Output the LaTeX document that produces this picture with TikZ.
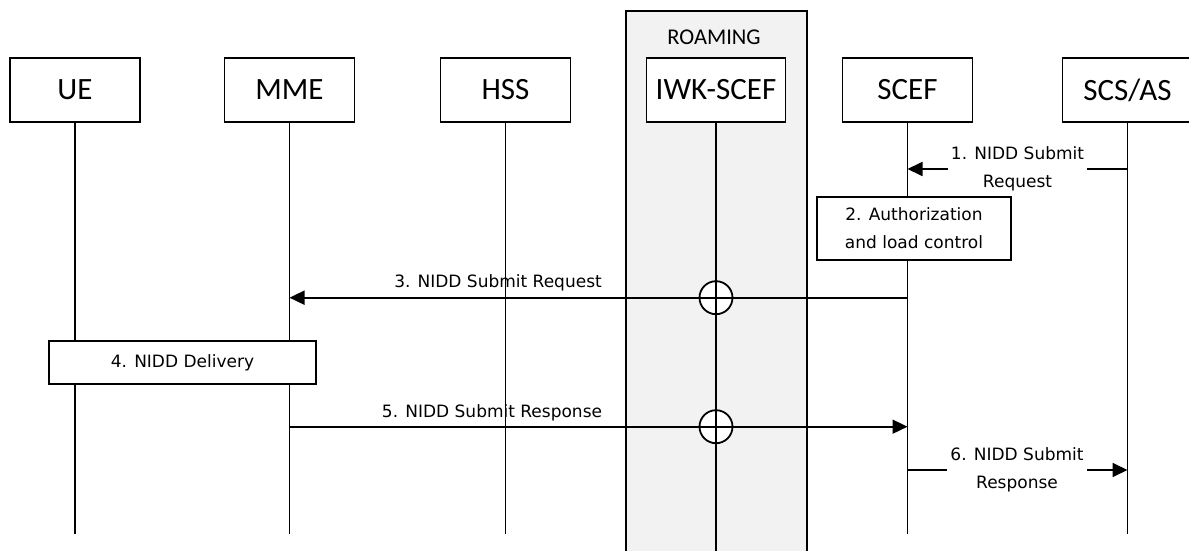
\documentclass[tikz,border=0pt]{standalone}
\usepackage{fontspec}
\setmainfont{Carlito}
\newfontfamily\msgfont{DejaVu Sans}
\usetikzlibrary{arrows.meta}
\definecolor{roamgray}{HTML}{F2F2F2}
\begin{document}
\begin{tikzpicture}[x=1pt,y=-1pt,
  entity/.style={draw, line width=1.9pt, fill=white, minimum width=130pt, minimum height=64pt, inner sep=0pt, font=\fontsize{31}{36}\selectfont},
  life/.style={line width=1.8pt},
  msg/.style={line width=1.8pt, -{Triangle[length=15pt,width=14pt]}},
  lbl/.style={font=\msgfont\fontsize{17}{28}\selectfont, align=center, inner sep=0pt},
  gaplbl/.style={lbl, fill=white, inner xsep=3pt},
  actbox/.style={draw, line width=1.9pt, fill=white, lbl},
  crossing/.style={circle, draw, line width=1.8pt, fill=white, minimum size=33pt, inner sep=0pt}
]
\useasboundingbox (0,0) rectangle (1189,551);
% roaming area
\draw[line width=1.8pt, fill=roamgray] (626,10.7) rectangle (807,560);
\node[font=\fontsize{22.5}{26}\selectfont] (roam) at (714,37) {ROAMING};
% crossing circles
\node[crossing] (c1) at (716,297.7) {};
\node[crossing] (c2) at (716,426.7) {};
% entities
\node[entity] (ue) at (75,90) {UE};
\node[entity] (mme) at (289.5,90) {MME};
\node[entity] (hss) at (505.5,90) {HSS};
\node[entity, minimum width=139pt] (iwk) at (716,90) {IWK-SCEF};
\node[entity] (scef) at (907.5,90) {SCEF};
\node[entity] (scs) at (1127.5,90) {SCS/AS};
% lifeline ends
\coordinate (ueE) at (75,534);
\coordinate (mmeE) at (289.5,534);
\coordinate (hssE) at (505.5,534);
\coordinate (iwkE) at (716,551);
\coordinate (scefE) at (907.5,534);
\coordinate (scsE) at (1127.5,534);
\foreach \n in {ue,mme,hss,iwk,scef,scs}{\draw[life] (\n.south) -- (\n E);}
% message anchors
\coordinate (m1a) at (1127.5,169);
\coordinate (m1b) at (907.5,169);
\coordinate (m3a) at (907.5,297.7);
\coordinate (m3b) at (289.5,297.7);
\coordinate (m5a) at (289.5,426.7);
\coordinate (m5b) at (907.5,426.7);
\coordinate (m6a) at (907.5,470);
\coordinate (m6b) at (1127.5,470);
% 1
\draw[msg] (m1a) -- (m1b);
\node[gaplbl] (l1) at (1017.5,169) {1. NIDD Submit\\Request};
% 2
\node[actbox, minimum width=194pt, minimum height=63pt] (auth) at (914,228.5) {2. Authorization\\and load control};
% 3
\draw[msg] (m3a) -- (m3b);
\node[lbl, anchor=base] (l3) at (498,287) {3. NIDD Submit Request};
% 4
\node[actbox, minimum width=267pt, minimum height=43.5pt] (deliv) at (182.5,362.5) {4. NIDD Delivery};
% 5
\draw[msg] (m5a) -- (m5b);
\node[lbl, anchor=base] (l5) at (492,417.7) {5. NIDD Submit Response};
% 6
\draw[msg] (m6a) -- (m6b);
\node[gaplbl] (l6) at (1017,470) {6. NIDD Submit\\Response};
\end{tikzpicture}
\end{document}
